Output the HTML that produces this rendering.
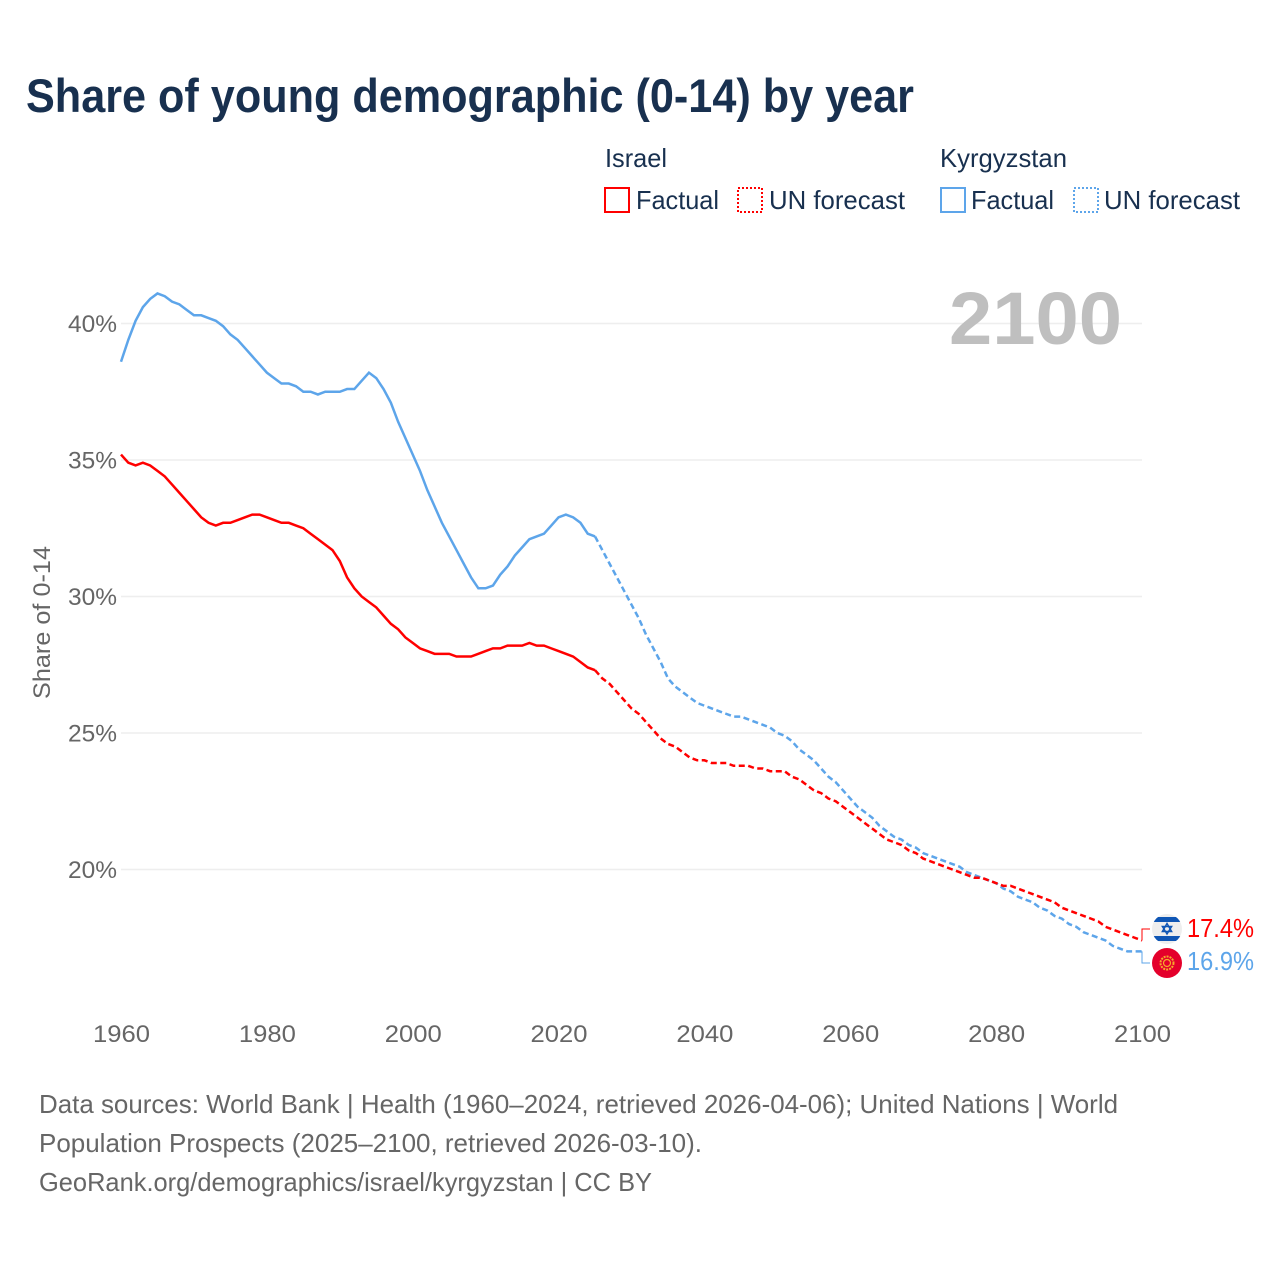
<!DOCTYPE html>
<html lang="en">
<head>
<meta charset="utf-8">
<title>Share of young demographic (0-14) by year</title>
<style>
html,body{margin:0;padding:0;background:#fff;}
svg{display:block;font-family:"Liberation Sans",sans-serif;}
</style>
</head>
<body>
<svg id="chart" xmlns="http://www.w3.org/2000/svg" width="1280" height="1280" viewBox="0 0 1280 1280">
  <rect x="0" y="0" width="1280" height="1280" fill="#ffffff"/>
  <text x="26" y="112" font-size="47" font-weight="700" fill="#18304f" textLength="888" lengthAdjust="spacingAndGlyphs">Share of young demographic (0-14) by year</text>

  <g font-size="26" fill="#18304f">
    <text x="605" y="167" textLength="62" lengthAdjust="spacingAndGlyphs">Israel</text>
    <text x="940" y="167" textLength="127" lengthAdjust="spacingAndGlyphs">Kyrgyzstan</text>
    <rect x="605" y="188" width="24" height="24" fill="none" stroke="#ff0000" stroke-width="2"/>
    <text x="636" y="209" textLength="83" lengthAdjust="spacingAndGlyphs">Factual</text>
    <rect x="738" y="188" width="24" height="24" fill="none" stroke="#ff0000" stroke-width="2" stroke-dasharray="2 2"/>
    <text x="769" y="209" textLength="136" lengthAdjust="spacingAndGlyphs">UN forecast</text>
    <rect x="941" y="188" width="24" height="24" fill="none" stroke="#5da5ea" stroke-width="2"/>
    <text x="971" y="209" textLength="83" lengthAdjust="spacingAndGlyphs">Factual</text>
    <rect x="1074" y="188" width="24" height="24" fill="none" stroke="#5da5ea" stroke-width="2" stroke-dasharray="2 2"/>
    <text x="1104" y="209" textLength="136" lengthAdjust="spacingAndGlyphs">UN forecast</text>
  </g>

  <text transform="translate(50,699) rotate(-90)" font-size="24" fill="#666666" textLength="153" lengthAdjust="spacingAndGlyphs">Share of 0-14</text>

  <g id="grid"></g>
  <g id="yticks"></g>
  <g id="xticks"></g>

  <text x="949" y="344" font-size="74" font-weight="700" fill="#bfbfbf" textLength="173" lengthAdjust="spacingAndGlyphs">2100</text>

  <g id="series"></g>

  <defs>
    <clipPath id="clip-il"><circle cx="1167" cy="929" r="15"/></clipPath>
  </defs>
  <g>
    <circle cx="1167" cy="929" r="15" fill="#eeeeee"/>
    <g clip-path="url(#clip-il)">
      <rect x="1152" y="917" width="30" height="5" fill="#0f56b5"/>
      <rect x="1152" y="936" width="30" height="5" fill="#0f56b5"/>
    </g>
    <polygon points="1167,923.5 1171.6,931.5 1162.4,931.5" fill="none" stroke="#0f56b5" stroke-width="1.5"/>
    <polygon points="1167,934 1171.6,926.5 1162.4,926.5" fill="none" stroke="#0f56b5" stroke-width="1.5"/>
  </g>
  <g>
    <circle cx="1167" cy="963" r="15" fill="#e4002b"/>
    <circle cx="1167" cy="963" r="6.5" fill="none" stroke="#f7a92c" stroke-width="2" stroke-dasharray="2 1"/>
    <circle cx="1167" cy="963" r="3.5" fill="#e4002b" stroke="#f7a92c" stroke-width="1.2"/>
  </g>

  <g id="endlabels"></g>

  <g font-size="26" fill="#666666">
    <text x="39" y="1113" textLength="1079" lengthAdjust="spacingAndGlyphs">Data sources: World Bank | Health (1960–2024, retrieved 2026-04-06); United Nations | World</text>
    <text x="39" y="1152" textLength="663" lengthAdjust="spacingAndGlyphs">Population Prospects (2025–2100, retrieved 2026-03-10).</text>
    <text x="39" y="1191" textLength="613" lengthAdjust="spacingAndGlyphs">GeoRank.org/demographics/israel/kyrgyzstan | CC BY</text>
  </g>
</svg>

<script>
const yTicks = [20, 25, 30, 35, 40];
const xTicks = [1960, 1980, 2000, 2020, 2040, 2060, 2080, 2100];
const factualStartYear = 1960;
const forecastStartYear = 2025;
const israelFactual = [
  35.2,34.9,34.8,34.9,34.8,34.6,34.4,34.1,33.8,33.5,
  33.2,32.9,32.7,32.6,32.7,32.7,32.8,32.9,33.0,33.0,
  32.9,32.8,32.7,32.7,32.6,32.5,32.3,32.1,31.9,31.7,
  31.3,30.7,30.3,30.0,29.8,29.6,29.3,29.0,28.8,28.5,
  28.3,28.1,28.0,27.9,27.9,27.9,27.8,27.8,27.8,27.9,
  28.0,28.1,28.1,28.2,28.2,28.2,28.3,28.2,28.2,28.1,
  28.0,27.9,27.8,27.6,27.4,27.3
];
const israelForecast = [
  27.3,27.0,26.8,26.5,26.2,
  25.9,25.7,25.4,25.1,24.8,
  24.6,24.5,24.3,24.1,24.0,
  24.0,23.9,23.9,23.9,23.8,
  23.8,23.8,23.7,23.7,23.6,
  23.6,23.6,23.4,23.3,23.1,
  22.9,22.8,22.6,22.5,22.3,
  22.1,21.9,21.7,21.5,21.3,
  21.1,21.0,20.9,20.7,20.6,
  20.4,20.3,20.2,20.1,20.0,
  19.9,19.8,19.7,19.7,19.6,
  19.5,19.4,19.4,19.3,19.2,
  19.1,19.0,18.9,18.8,18.6,
  18.5,18.4,18.3,18.2,18.1,
  17.9,17.8,17.7,17.6,17.5,
  17.4
];
const kyrgyzstanFactual = [
  38.6,39.4,40.1,40.6,40.9,41.1,41.0,40.8,40.7,40.5,
  40.3,40.3,40.2,40.1,39.9,39.6,39.4,39.1,38.8,38.5,
  38.2,38.0,37.8,37.8,37.7,37.5,37.5,37.4,37.5,37.5,
  37.5,37.6,37.6,37.9,38.2,38.0,37.6,37.1,36.4,35.8,
  35.2,34.6,33.9,33.3,32.7,32.2,31.7,31.2,30.7,30.3,
  30.3,30.4,30.8,31.1,31.5,31.8,32.1,32.2,32.3,32.6,
  32.9,33.0,32.9,32.7,32.3,32.2
];
const kyrgyzstanForecast = [
  32.2,31.7,31.2,30.7,30.2,
  29.7,29.2,28.6,28.1,27.6,
  27.0,26.7,26.5,26.3,26.1,
  26.0,25.9,25.8,25.7,25.6,
  25.6,25.5,25.4,25.3,25.2,
  25.0,24.9,24.7,24.4,24.2,
  24.0,23.7,23.4,23.2,22.9,
  22.6,22.3,22.1,21.9,21.6,
  21.4,21.2,21.1,20.9,20.8,
  20.6,20.5,20.4,20.3,20.2,
  20.1,19.9,19.8,19.7,19.6,
  19.5,19.3,19.2,19.0,18.9,
  18.8,18.6,18.5,18.3,18.2,
  18.0,17.9,17.7,17.6,17.5,
  17.4,17.2,17.1,17.0,17.0,
  17.0
];
const printedEndLabels = ["17.4%", "16.9%"];

const NS = "http://www.w3.org/2000/svg";
const RED = "#ff0000";
const BLUE = "#5da5ea";
const xScale = function (year) { return 121 + (year - 1960) * (1021 / 140); };
const yScale = function (v) { return 323.5 + (40 - v) * 27.3; };

function buildPath(values, startYear) {
  return values.map(function (v, i) {
    return (i ? "L" : "M") + xScale(startYear + i).toFixed(2) + " " + yScale(v).toFixed(2);
  }).join(" ");
}
function create(tag, parentId) {
  const el = document.createElementNS(NS, tag);
  document.getElementById(parentId).appendChild(el);
  return el;
}

yTicks.forEach(function (t) {
  const line = create("line", "grid");
  
  
  line.setAttribute("x1", 121);
  line.setAttribute("x2", 1142);
  line.setAttribute("y1", yScale(t));
  line.setAttribute("y2", yScale(t));
  line.setAttribute("stroke", "#eeeeee");
  line.setAttribute("stroke-width", 1.5);

  const label = create("text", "yticks");
  
  
  label.setAttribute("x", 68);
  label.setAttribute("y", yScale(t) + 8.5);
  label.setAttribute("font-size", 24.5);
  label.setAttribute("fill", "#666666");
  label.setAttribute("textLength", 49);
  label.setAttribute("lengthAdjust", "spacingAndGlyphs");
  label.textContent = t + "%";
});

xTicks.forEach(function (t) {
  const label = create("text", "xticks");
  
  
  label.setAttribute("x", xScale(t) - 28);
  label.setAttribute("y", 1042);
  label.setAttribute("font-size", 24.5);
  label.setAttribute("fill", "#666666");
  label.setAttribute("textLength", 57);
  label.setAttribute("lengthAdjust", "spacingAndGlyphs");
  label.textContent = t;
});

const kgFactualLine = create("path", "series");


kgFactualLine.setAttribute("d", buildPath(kyrgyzstanFactual, factualStartYear));
kgFactualLine.setAttribute("fill", "none");
kgFactualLine.setAttribute("stroke", BLUE);
kgFactualLine.setAttribute("stroke-width", 2.5);

const kgForecastLine = create("path", "series");


kgForecastLine.setAttribute("d", buildPath(kyrgyzstanForecast, forecastStartYear));
kgForecastLine.setAttribute("fill", "none");
kgForecastLine.setAttribute("stroke", BLUE);
kgForecastLine.setAttribute("stroke-width", 2.5);
kgForecastLine.setAttribute("stroke-dasharray", "6 3.5");

const ilFactualLine = create("path", "series");


ilFactualLine.setAttribute("d", buildPath(israelFactual, factualStartYear));
ilFactualLine.setAttribute("fill", "none");
ilFactualLine.setAttribute("stroke", RED);
ilFactualLine.setAttribute("stroke-width", 2.5);

const ilForecastLine = create("path", "series");


ilForecastLine.setAttribute("d", buildPath(israelForecast, forecastStartYear));
ilForecastLine.setAttribute("fill", "none");
ilForecastLine.setAttribute("stroke", RED);
ilForecastLine.setAttribute("stroke-width", 2.5);
ilForecastLine.setAttribute("stroke-dasharray", "6 3.5");

const endX = xScale(2100);
const ilConnector = create("path", "endlabels");


ilConnector.setAttribute("d", "M" + endX + " " + yScale(israelForecast[israelForecast.length - 1]) + " V929 H1150");
ilConnector.setAttribute("fill", "none");
ilConnector.setAttribute("stroke", RED);
ilConnector.setAttribute("stroke-width", 1);

const kgConnector = create("path", "endlabels");


kgConnector.setAttribute("d", "M" + endX + " " + yScale(kyrgyzstanForecast[kyrgyzstanForecast.length - 1]) + " V963 H1150");
kgConnector.setAttribute("fill", "none");
kgConnector.setAttribute("stroke", BLUE);
kgConnector.setAttribute("stroke-width", 1);

const ilEndLabel = create("text", "endlabels");


ilEndLabel.setAttribute("x", 1187);
ilEndLabel.setAttribute("y", 937);
ilEndLabel.setAttribute("font-size", 26);
ilEndLabel.setAttribute("fill", RED);
ilEndLabel.setAttribute("textLength", 67);
ilEndLabel.setAttribute("lengthAdjust", "spacingAndGlyphs");
ilEndLabel.textContent = printedEndLabels[0];

const kgEndLabel = create("text", "endlabels");


kgEndLabel.setAttribute("x", 1187);
kgEndLabel.setAttribute("y", 970);
kgEndLabel.setAttribute("font-size", 26);
kgEndLabel.setAttribute("fill", BLUE);
kgEndLabel.setAttribute("textLength", 67);
kgEndLabel.setAttribute("lengthAdjust", "spacingAndGlyphs");
kgEndLabel.textContent = printedEndLabels[1];
</script>
</body>
</html>
